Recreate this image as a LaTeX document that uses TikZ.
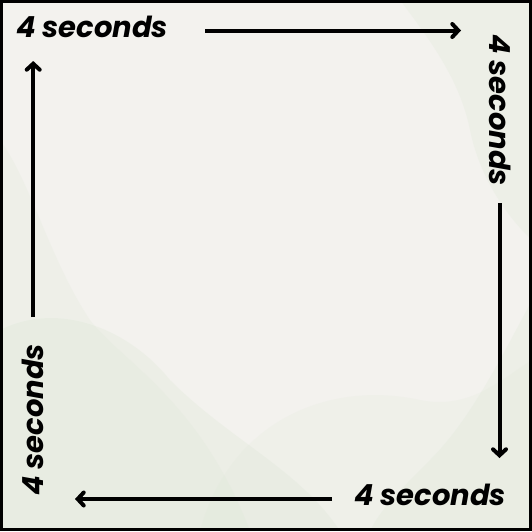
\documentclass[tikz,border=0pt]{standalone}
\usepackage{fontspec}
\newfontfamily\popfont{Poppins}
\usetikzlibrary{arrows.meta}
\definecolor{paper}{HTML}{F3F2EE}
\definecolor{wash}{HTML}{D9E6D2}
\tikzset{
  lbl/.style={font=\popfont\bfseries\itshape\fontsize{29}{32}\selectfont, inner sep=0pt, text=black},
  flow/.style={line width=4pt, -{Straight Barb[length=6pt,width=13pt,line cap=round]}},
}
\begin{document}
\begin{tikzpicture}[x=1pt,y=-1pt]
\useasboundingbox (0,0) rectangle (532,531);
\fill[paper] (0,0) rectangle (532,531);
% watercolor washes
\begin{scope}[fill=wash]
\fill[opacity=0.25] (0,531) -- (0,330) .. controls (60,300) and (130,330) .. (170,380) .. controls (230,440) and (300,470) .. (340,531) -- cycle;
\fill[opacity=0.18] (0,531) -- (0,140) .. controls (30,180) and (50,260) .. (90,320) .. controls (120,360) and (200,400) .. (250,531) -- cycle;
\fill[opacity=0.22] (532,0) -- (400,0) .. controls (430,40) and (460,80) .. (470,130) .. controls (480,180) and (510,220) .. (532,240) -- cycle;
\fill[opacity=0.22] (532,531) -- (532,300) .. controls (500,360) and (470,420) .. (430,460) .. controls (400,490) and (380,510) .. (370,531) -- cycle;
\fill[opacity=0.15] (200,531) .. controls (230,420) and (330,380) .. (420,400) .. controls (470,410) and (500,380) .. (532,360) -- (532,531) -- cycle;
\end{scope}
\draw[line width=3pt] (1.5,1.5) rectangle (530.5,529.5);
% labels
\node[lbl] (ttop) at (92,27) {4 seconds};
\node[lbl, rotate=-90] (tright) at (500,110) {4 seconds};
\node[lbl] (tbot) at (430,495) {4 seconds};
\node[lbl, rotate=90] (tleft) at (33,420) {4 seconds};
% arrow ends
\coordinate (a1) at (205,30.5);
\coordinate (b1) at (461,30.5);
\coordinate (a2) at (499.5,203);
\coordinate (b2) at (499.5,458);
\coordinate (a3) at (332,499);
\coordinate (b3) at (75,499);
\coordinate (a4) at (33.2,317);
\coordinate (b4) at (33.2,61);
\draw[flow] (a1) -- (b1);
\draw[flow] (a2) -- (b2);
\draw[flow] (a3) -- (b3);
\draw[flow] (a4) -- (b4);
\end{tikzpicture}
\end{document}
